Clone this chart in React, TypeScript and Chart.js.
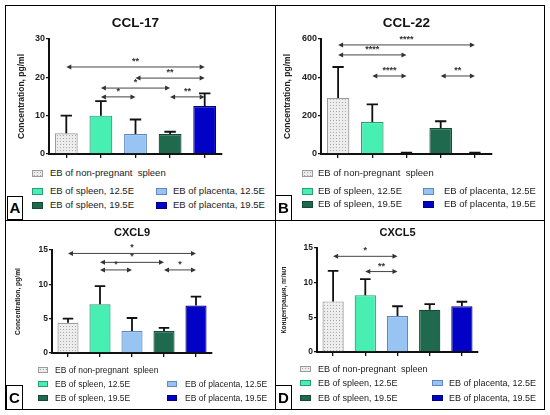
import { useEffect, useRef } from 'react';
import { Chart, registerables } from 'chart.js';

Chart.register(...registerables);
Chart.defaults.font.family = "'Liberation Sans', Arial, sans-serif";

type Sig = [number, number, number, string]; // from bar, to bar, level on y scale, stars

const groups = [
    'EB of non-pregnant  spleen',
    'EB of spleen, 12.5E',
    'EB of placenta, 12.5E',
    'EB of spleen, 19.5E',
    'EB of placenta, 19.5E',
];
const fills = ['#ececec', '#47efb3', '#97c4f3', '#1f6a4e', '#0202c6'];
const edges = ['#9b9b9b', '#2a9e76', '#6288bb', '#144a35', '#00007e'];

// CCL-17
const ccl17Mean = [5.4, 10.0, 5.2, 5.2, 12.5];
const ccl17Sd = [4.6, 3.8, 3.8, 0.6, 3.3];
const ccl17Ticks = [0, 10, 20, 30];
const ccl17Sig: Sig[] = [
    [0, 4, 22.7, '**'],
    [2, 4, 19.8, '**'],
    [1, 3, 17.2, '*'],
    [3, 4, 14.9, '**'],
    [1, 2, 14.9, '*'],
];

// CCL-22
const ccl22Mean = [292, 167, 4, 136, 4];
const ccl22Sd = [162, 92, 3, 35, 3];
const ccl22Ticks = [0, 200, 400, 600];
const ccl22Sig: Sig[] = [
    [0, 4, 569, '****'],
    [0, 2, 517, '****'],
    [1, 2, 407, '****'],
    [3, 4, 407, '**'],
];

// CXCL9
const cxcl9Mean = [4.4, 7.1, 3.2, 3.2, 6.9];
const cxcl9Sd = [0.6, 2.65, 1.9, 0.45, 1.3];
const cxcl9Ticks = [0, 5, 10, 15];
const cxcl9Sig: Sig[] = [
    [0, 4, 14.5, '*'],
    [1, 3, 13.2, '*'],
    [1, 2, 12.1, '*'],
    [3, 4, 12.1, '*'],
];

// CXCL5
const cxcl5Mean = [7.3, 8.2, 5.2, 6.1, 6.6];
const cxcl5Sd = [4.4, 2.3, 1.4, 0.8, 0.65];
const cxcl5Ticks = [0, 5, 10, 15];
const cxcl5Sig: Sig[] = [
    [0, 2, 13.8, '*'],
    [1, 2, 11.6, '**'],
];

type Geo = {
    left: number;
    top: number;
    w: number;
    h: number;
    canvasW: number;
    canvasH: number;
    axisW: number;
    padRight: number;
    titleSize: number;
    titleY: number;
    chartTop: number;
    tickSize: number;
    yLabelSize: number;
    yLabelX: number;
    rows: number[];
    c1Box: number;
    c1Text: number;
    c2Box: number;
    c2Text: number;
    font: number;
    swW: number;
    swH: number;
    letter: { x: number; y: number; w: number; h: number };
};

const makeDots = () => {
    const c = document.createElement('canvas');
    c.width = 3;
    c.height = 3;
    const p = c.getContext('2d')!;
    p.fillStyle = '#ededed';
    p.fillRect(0, 0, 3, 3);
    p.fillStyle = '#a8a8a8';
    p.fillRect(1, 1, 1, 1);
    return p.createPattern(c, 'repeat');
};

interface PanelProps {
    letter: string;
    title: string;
    yLabel: string;
    mean: number[];
    sd: number[];
    ticks: number[];
    sig: Sig[];
    g: Geo;
}

const Panel = ({ letter, title, yLabel, mean, sd, ticks, sig, g }: PanelProps) => {
    const chartRef = useRef<HTMLCanvasElement>(null);

    useEffect(() => {
        const ctx = chartRef.current?.getContext('2d');
        if (!ctx) return;
        const padTop = g.titleY - 0.6 * g.titleSize;
        const padBottom = g.chartTop - padTop - 1.2 * g.titleSize;

        const whiskers = {
            id: 'whiskers',
            afterDatasetsDraw: (chart: any) => {
                const c = chart.ctx;
                const y = chart.scales.y;
                const bars = chart.getDatasetMeta(0).data;
                c.save();
                c.strokeStyle = '#111';
                c.lineWidth = 1.8;
                bars.forEach((bar: any, i: number) => {
                    const top = y.getPixelForValue(mean[i] + sd[i]);
                    const half = bar.width * 0.25;
                    c.beginPath();
                    c.moveTo(bar.x, bar.y);
                    c.lineTo(bar.x, top);
                    c.moveTo(bar.x - half, top);
                    c.lineTo(bar.x + half, top);
                    c.stroke();
                });
                c.restore();
            },
        };

        const brackets = {
            id: 'brackets',
            afterDraw: (chart: any) => {
                const c = chart.ctx;
                const y = chart.scales.y;
                const bars = chart.getDatasetMeta(0).data;
                c.save();
                c.strokeStyle = '#444';
                c.fillStyle = '#333';
                c.lineWidth = 1;
                sig.forEach(([a, b, level, stars]) => {
                    const x1 = bars[a].x;
                    const x2 = bars[b].x;
                    const yy = y.getPixelForValue(level);
                    c.beginPath();
                    c.moveTo(x1 + 2, yy);
                    c.lineTo(x2 - 2, yy);
                    c.stroke();
                    c.beginPath();
                    c.moveTo(x1, yy);
                    c.lineTo(x1 + 5, yy - 2.5);
                    c.lineTo(x1 + 5, yy + 2.5);
                    c.closePath();
                    c.moveTo(x2, yy);
                    c.lineTo(x2 - 5, yy - 2.5);
                    c.lineTo(x2 - 5, yy + 2.5);
                    c.closePath();
                    c.fill();
                    c.font = "bold 9px 'Liberation Sans', Arial, sans-serif";
                    c.textAlign = 'center';
                    c.textBaseline = 'alphabetic';
                    c.fillText(stars, (x1 + x2) / 2, yy - 3);
                });
                c.restore();
            },
        };

        const bg: any[] = fills.map((f) => f);
        bg[0] = makeDots() || fills[0];

        const chart = new Chart(ctx, {
            type: 'bar',
            data: {
                labels: groups,
                datasets: [
                    {
                        data: mean,
                        backgroundColor: bg,
                        borderColor: edges,
                        borderWidth: 1.2,
                        barPercentage: 0.66,
                        categoryPercentage: 1,
                    },
                ],
            },
            options: {
                animation: false,
                responsive: false,
                layout: { padding: { left: 0, right: g.padRight, top: 0, bottom: 3 } },
                plugins: {
                    legend: { display: false },
                    tooltip: { enabled: false },
                    title: {
                        display: true,
                        text: title,
                        fullSize: false,
                        color: '#111',
                        font: { size: g.titleSize, weight: 'bold' },
                        padding: { top: padTop, bottom: padBottom },
                    },
                },
                scales: {
                    x: {
                        grid: {
                            display: true,
                            offset: false,
                            drawOnChartArea: false,
                            drawTicks: true,
                            tickLength: 4,
                            color: '#111',
                            lineWidth: 1.3,
                        },
                        border: { display: true, color: '#111', width: 2 },
                        ticks: { display: false },
                        afterFit: (s: any) => {
                            s.height = 8;
                        },
                    },
                    y: {
                        min: 0,
                        max: ticks[ticks.length - 1],
                        afterBuildTicks: (s: any) => {
                            s.ticks = ticks.map((v) => ({ value: v }));
                        },
                        grid: {
                            drawOnChartArea: false,
                            tickLength: 3,
                            color: '#111',
                            lineWidth: 1.3,
                        },
                        border: { display: true, color: '#111', width: 2 },
                        ticks: {
                            color: '#222',
                            padding: 1,
                            font: { size: g.tickSize, weight: 'bold' },
                        },
                        title: {
                            display: true,
                            text: yLabel,
                            color: '#222',
                            font: { size: g.yLabelSize, weight: 'bold' },
                            padding: { top: g.yLabelX - 0.6 * g.yLabelSize, bottom: 0 },
                        },
                        afterFit: (s: any) => {
                            s.width = g.axisW;
                        },
                    },
                },
            },
            plugins: [whiskers, brackets],
        });

        return () => {
            chart.destroy();
        };
    }, []);

    const swatch = (i: number, x: number, y: number) => (
        <div
            key={'s' + i}
            style={{
                position: 'absolute',
                left: x,
                top: y - g.swH / 2,
                width: g.swW,
                height: g.swH,
                boxSizing: 'border-box',
                border: '1px solid ' + edges[i],
                background: fills[i],
                backgroundImage: i === 0 ? 'radial-gradient(#a0a0a0 0.6px, transparent 0.9px)' : undefined,
                backgroundSize: '3px 3px',
            }}
        />
    );
    const label = (i: number, x: number, y: number) => (
        <div
            key={'t' + i}
            style={{
                position: 'absolute',
                left: x,
                top: y - 7,
                height: 14,
                lineHeight: '14px',
                fontSize: g.font,
                color: '#222',
                whiteSpace: 'pre',
            }}
        >
            {groups[i]}
        </div>
    );
    const slots: [number, number, number][] = [
        [0, 0, 0],
        [1, 1, 0],
        [2, 1, 1],
        [3, 2, 0],
        [4, 2, 1],
    ];

    return (
        <div
            style={{
                position: 'absolute',
                left: g.left,
                top: g.top,
                width: g.w,
                height: g.h,
                fontFamily: "'Liberation Sans', Arial, sans-serif",
            }}
        >
            <canvas
                ref={chartRef}
                width={g.canvasW}
                height={g.canvasH}
                style={{ position: 'absolute', left: 0, top: 0 }}
            />
            {slots.map(([i, row, col]) => [
                swatch(i, col ? g.c2Box : g.c1Box, g.rows[row]),
                label(i, col ? g.c2Text : g.c1Text, g.rows[row]),
            ])}
            <div
                style={{
                    position: 'absolute',
                    left: g.letter.x,
                    top: g.letter.y,
                    width: g.letter.w,
                    height: g.letter.h,
                    boxSizing: 'border-box',
                    border: '1px solid #000',
                    background: '#fff',
                    fontWeight: 'bold',
                    fontSize: 15,
                    lineHeight: g.letter.h - 2 + 'px',
                    textAlign: 'center',
                    color: '#000',
                }}
            >
                {letter}
            </div>
            <div
                style={{
                    position: 'absolute',
                    inset: 0,
                    border: '1px solid #000',
                    pointerEvents: 'none',
                }}
            />
        </div>
    );
};

const geoA: Geo = {
    left: 5, top: 5, w: 271, h: 216, canvasW: 270, canvasH: 160, axisW: 44, padRight: 53,
    titleSize: 13.5, titleY: 18.5, chartTop: 34, tickSize: 9, yLabelSize: 8.5, yLabelX: 17,
    rows: [168, 186, 200], c1Box: 27, c1Text: 45, c2Box: 151, c2Text: 168, font: 9.5, swW: 11, swH: 7,
    letter: { x: 2, y: 191, w: 16, h: 24 },
};
const geoB: Geo = {
    left: 275, top: 5, w: 270, h: 216, canvasW: 269, canvasH: 160, axisW: 46, padRight: 52,
    titleSize: 13.5, titleY: 18.5, chartTop: 34, tickSize: 9, yLabelSize: 8.5, yLabelX: 13,
    rows: [168, 186, 199], c1Box: 27, c1Text: 43, c2Box: 148, c2Text: 169, font: 9.5, swW: 11, swH: 7,
    letter: { x: 0, y: 190, w: 17, h: 26 },
};
const geoC: Geo = {
    left: 5, top: 220, w: 271, h: 190, canvasW: 270, canvasH: 144, axisW: 47, padRight: 63,
    titleSize: 11, titleY: 13, chartTop: 30, tickSize: 8.5, yLabelSize: 6.7, yLabelX: 13,
    rows: [150, 164, 178], c1Box: 33, c1Text: 50, c2Box: 162, c2Text: 180, font: 8.5, swW: 10, swH: 6,
    letter: { x: 1, y: 165, w: 17, h: 25 },
};
const geoD: Geo = {
    left: 275, top: 220, w: 270, h: 190, canvasW: 269, canvasH: 143, axisW: 42, padRight: 66,
    titleSize: 11, titleY: 13, chartTop: 28, tickSize: 8.5, yLabelSize: 6.5, yLabelX: 9,
    rows: [149, 163, 178], c1Box: 25, c1Text: 43, c2Box: 157, c2Text: 174, font: 9, swW: 11, swH: 6,
    letter: { x: 0, y: 165, w: 17, h: 25 },
};

export default function App() {
    return (
        <div style={{ position: 'absolute', left: 0, top: 0, width: 550, height: 415, background: '#fff' }}>
            <Panel letter="A" title="CCL-17" yLabel="Concentration, pg/ml" mean={ccl17Mean} sd={ccl17Sd} ticks={ccl17Ticks} sig={ccl17Sig} g={geoA} />
            <Panel letter="B" title="CCL-22" yLabel="Concentration, pg/ml" mean={ccl22Mean} sd={ccl22Sd} ticks={ccl22Ticks} sig={ccl22Sig} g={geoB} />
            <Panel letter="C" title="CXCL9" yLabel="Concentration, pg/ml" mean={cxcl9Mean} sd={cxcl9Sd} ticks={cxcl9Ticks} sig={cxcl9Sig} g={geoC} />
            <Panel letter="D" title="CXCL5" yLabel="Концентрация, пг/мл" mean={cxcl5Mean} sd={cxcl5Sd} ticks={cxcl5Ticks} sig={cxcl5Sig} g={geoD} />
        </div>
    );
}
